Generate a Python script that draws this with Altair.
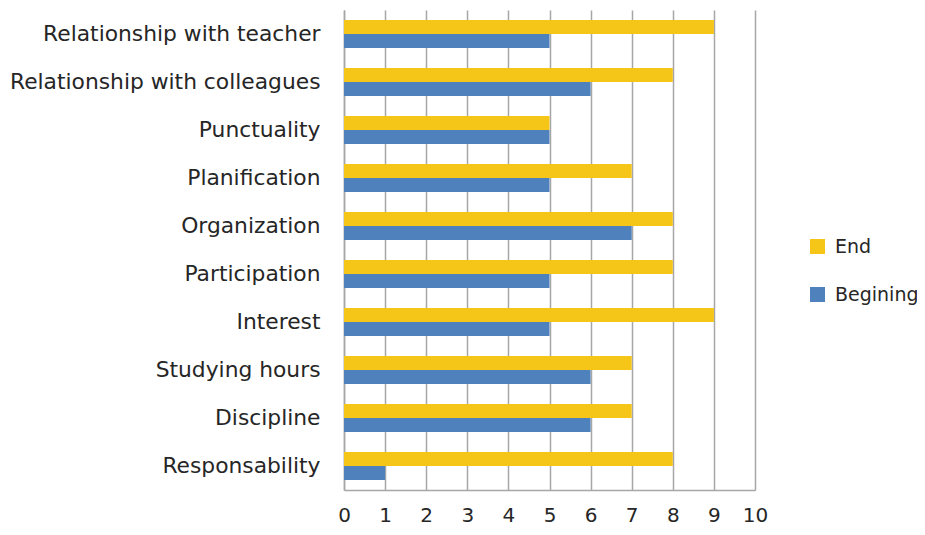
import altair as alt
import pandas as pd

categories = ["Relationship with teacher", "Relationship with colleagues", "Punctuality",
              "Planification", "Organization", "Participation", "Interest",
              "Studying hours", "Discipline", "Responsability"]
end_values = [9, 8, 5, 7, 8, 8, 9, 7, 7, 8]
begin_values = [5, 6, 5, 5, 7, 5, 5, 6, 6, 1]
series = ["End", "Begining"]
colors = ["#F5C518", "#4F81BD"]

rows = []
for c, e, b in zip(categories, end_values, begin_values):
    rows.append({"category": c, "series": "End", "value": e})
    rows.append({"category": c, "series": "Begining", "value": b})
df = pd.DataFrame(rows)

FONT = "DejaVu Sans"

chart = alt.Chart(df).mark_bar().encode(
    y=alt.Y("category:N", sort=categories, title=None,
            scale=alt.Scale(paddingInner=0.42, paddingOuter=0.21),
            axis=alt.Axis(grid=False, ticks=False, domain=True, domainColor="#A6A6A6",
                          domainWidth=1.5, labelFontSize=21.8, labelFont=FONT,
                          labelColor="#262626", labelPadding=24, labelLimit=400)),
    yOffset=alt.YOffset("series:N", sort=series),
    x=alt.X("value:Q", title=None,
            scale=alt.Scale(domain=[0, 10], nice=False),
            axis=alt.Axis(values=list(range(0, 11)), grid=True, gridColor="#A6A6A6",
                          gridWidth=1.5, ticks=False, domain=True, domainColor="#A6A6A6",
                          domainWidth=1.5, labelFontSize=20, labelFont=FONT,
                          labelColor="#262626", labelPadding=15, labelFlush=False)),
    color=alt.Color("series:N", sort=series,
                    scale=alt.Scale(domain=series, range=colors),
                    legend=alt.Legend(title=None, orient="none", legendX=464, legendY=227,
                                      symbolType="square", symbolSize=225,
                                      symbolStrokeWidth=0, labelFontSize=19,
                                      labelFont=FONT, labelColor="#262626",
                                      rowPadding=28, padding=0, labelOffset=8,
                                      labelLimit=200)),
).properties(
    width=411, height=480,
    autosize=alt.AutoSizeParams(type="none"),
    padding={"left": 336, "top": 2, "right": 162, "bottom": 37},
).configure(background="white").configure_view(stroke="transparent")

chart.save("out.html", embed_options={"renderer": "svg", "actions": False})
